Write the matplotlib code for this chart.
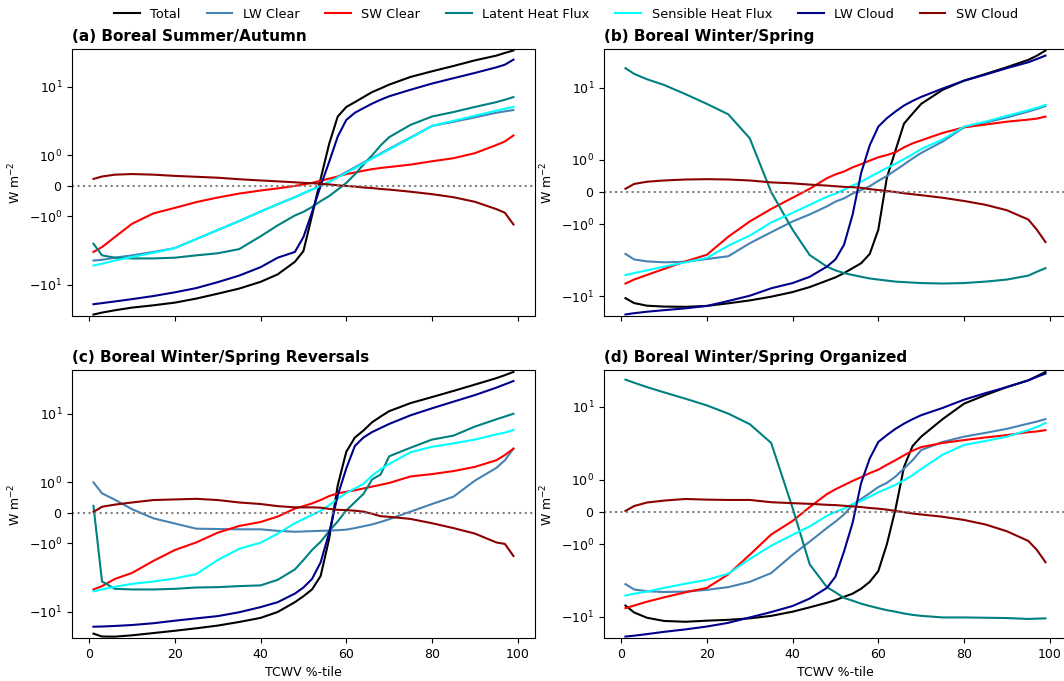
import matplotlib
matplotlib.use('Agg')
import matplotlib.pyplot as plt

# TCWV percentile bins
pct = [1, 3, 6, 10, 15, 20, 25, 30, 35, 40, 44, 48, 50, 52, 54, 56, 58, 60,
       62, 64, 66, 68, 70, 75, 80, 85, 90, 95, 97, 99]

labels = ['Total', 'LW Clear', 'SW Clear', 'Latent Heat Flux',
          'Sensible Heat Flux', 'LW Cloud', 'SW Cloud']
colors = ['black', 'steelblue', 'red', 'teal', 'cyan', 'darkblue', 'darkred']
titles = ['(a) Boreal Summer/Autumn', '(b) Boreal Winter/Spring',
          '(c) Boreal Winter/Spring Reversals', '(d) Boreal Winter/Spring Organized']

# (a) boreal summer/autumn
total_a = [-27, -25.3, -23.4, -21.4, -19.8, -18.1, -15.8, -13.4, -11.3, -9.0, -7.0, -4.6, -3.2, -0.97, 0.23,
           1.48, 3.7, 5.1, 6.0, 7.1, 8.4, 9.5, 10.8, 14.0, 16.9, 20.2, 24.4, 28.6, 31.3, 34.0]
lwclear_a = [-4.4, -4.3, -4.0, -3.7, -3.3, -2.9, -2.14, -1.58, -1.17, -0.84, -0.6, -0.37, -0.24, -0.12, 0.0,
             0.14, 0.3, 0.46, 0.61, 0.77, 0.91, 1.07, 1.25, 1.83, 2.7, 3.1, 3.6, 4.2, 4.4, 4.6]
swclear_a = [-3.3, -2.8, -2.0, -1.28, -0.9, -0.72, -0.53, -0.38, -0.25, -0.15, -0.08, 0.0, 0.05, 0.1, 0.17,
             0.24, 0.31, 0.39, 0.44, 0.5, 0.55, 0.59, 0.62, 0.7, 0.81, 0.91, 1.08, 1.42, 1.6, 1.96]
lhf_a = [-2.5, -3.7, -4.0, -4.1, -4.1, -4.0, -3.7, -3.45, -3.0, -1.95, -1.35, -0.97, -0.85, -0.69, -0.5,
         -0.33, -0.12, 0.1, 0.38, 0.7, 1.0, 1.4, 1.85, 2.8, 3.7, 4.3, 5.1, 6.0, 6.5, 7.1]
shf_a = [-5.2, -4.9, -4.4, -3.9, -3.4, -2.9, -2.14, -1.58, -1.17, -0.84, -0.6, -0.37, -0.24, -0.12, 0.0,
         0.13, 0.28, 0.43, 0.58, 0.74, 0.9, 1.05, 1.22, 1.8, 2.7, 3.2, 3.8, 4.5, 4.8, 5.1]
lwcloud_a = [-19.1, -18.4, -17.4, -16.1, -14.5, -12.8, -11.1, -9.1, -7.3, -5.5, -4.0, -3.3, -2.0, -0.86, 0.0,
             0.79, 1.89, 3.3, 4.2, 4.9, 5.7, 6.5, 7.3, 9.1, 11.2, 13.4, 16.0, 19.3, 21.1, 25.0]
swcloud_a = [0.23, 0.31, 0.37, 0.39, 0.37, 0.33, 0.3, 0.27, 0.22, 0.18, 0.15, 0.12, 0.1, 0.09, 0.07,
             0.05, 0.02, 0.0, -0.02, -0.05, -0.07, -0.1, -0.12, -0.19, -0.27, -0.37, -0.52, -0.76, -0.88, -1.31]

# (b) boreal winter/spring
total_b = [-10.7, -12.5, -13.6, -14.0, -14.1, -13.7, -12.6, -11.5, -10.2, -8.8, -7.5, -6.1, -5.5, -4.8, -4.1,
           -3.5, -2.6, -1.2, 0.45, 1.35, 3.2, 4.4, 6.0, 9.4, 12.6, 15.6, 19.4, 24.5, 28.0, 33.0]
lwclear_b = [-2.6, -3.1, -3.3, -3.4, -3.35, -3.06, -2.8, -1.85, -1.3, -0.92, -0.7, -0.45, -0.3, -0.2, -0.05,
             0.06, 0.18, 0.35, 0.5, 0.68, 0.86, 1.05, 1.25, 1.8, 2.84, 3.3, 3.9, 4.7, 5.1, 5.6]
swclear_b = [-6.7, -5.9, -5.1, -4.2, -3.3, -2.67, -1.5, -0.92, -0.53, -0.18, 0.1, 0.43, 0.55, 0.64, 0.77,
             0.87, 0.98, 1.09, 1.17, 1.28, 1.5, 1.7, 1.87, 2.37, 2.84, 3.1, 3.4, 3.63, 3.75, 4.0]
lhf_b = [18.8, 15.7, 13.2, 11.0, 8.2, 6.0, 4.3, 2.0, 0.0, -1.2, -2.7, -3.9, -4.4, -4.8, -5.1,
         -5.4, -5.7, -5.9, -6.1, -6.3, -6.4, -6.5, -6.6, -6.7, -6.6, -6.3, -5.9, -5.2, -4.6, -4.1]
shf_b = [-5.1, -4.8, -4.4, -3.9, -3.4, -2.95, -2.0, -1.45, -0.95, -0.65, -0.4, -0.15, -0.05, 0.07, 0.2,
         0.32, 0.47, 0.61, 0.75, 0.88, 1.03, 1.2, 1.42, 1.92, 2.9, 3.4, 4.1, 4.9, 5.3, 5.8]
lwcloud_b = [-18.0, -17.3, -16.5, -15.7, -14.8, -13.7, -11.7, -9.9, -7.8, -6.6, -5.4, -3.9, -3.1, -1.94, -0.71,
             0.6, 1.6, 2.9, 3.8, 4.7, 5.7, 6.6, 7.5, 9.8, 12.6, 15.3, 18.8, 22.7, 25.2, 28.1]
swcloud_b = [0.1, 0.25, 0.32, 0.36, 0.39, 0.4, 0.39, 0.36, 0.3, 0.27, 0.23, 0.2, 0.18, 0.16, 0.15,
             0.13, 0.09, 0.06, 0.03, 0.0, -0.04, -0.07, -0.1, -0.18, -0.28, -0.4, -0.57, -0.86, -1.2, -1.78]

# (c) reversals
total_c = [-20.7, -22.8, -22.9, -21.9, -20.3, -18.8, -17.3, -15.8, -14.0, -12.2, -10.0, -7.2, -5.9, -4.7, -3.0,
           -0.85, 0.9, 2.8, 4.5, 5.7, 7.5, 9.1, 10.9, 14.3, 17.5, 21.5, 26.6, 33.0, 36.5, 40.7]
lwclear_c = [1.0, 0.64, 0.43, 0.12, -0.18, -0.35, -0.52, -0.53, -0.54, -0.54, -0.59, -0.62, -0.61, -0.6, -0.59,
             -0.58, -0.57, -0.55, -0.5, -0.44, -0.38, -0.3, -0.21, 0.04, 0.29, 0.53, 1.06, 1.62, 2.1, 3.1]
swclear_c = [-4.7, -4.2, -3.3, -2.7, -1.8, -1.25, -0.97, -0.65, -0.43, -0.3, -0.12, 0.14, 0.22, 0.31, 0.42,
             0.55, 0.64, 0.69, 0.74, 0.8, 0.86, 0.92, 0.98, 1.22, 1.32, 1.46, 1.68, 2.1, 2.5, 3.1]
lhf_c = [0.23, -3.6, -4.6, -4.7, -4.7, -4.6, -4.4, -4.35, -4.2, -4.1, -3.4, -2.4, -1.75, -1.25, -0.95,
         -0.6, -0.28, 0.08, 0.35, 0.62, 1.1, 1.3, 2.4, 3.2, 4.2, 4.8, 6.5, 8.3, 9.1, 10.0]
shf_c = [-5.0, -4.7, -4.3, -3.9, -3.6, -3.25, -2.8, -1.75, -1.2, -0.98, -0.68, -0.34, -0.2, -0.07, 0.07,
         0.25, 0.46, 0.65, 0.8, 0.95, 1.25, 1.55, 1.85, 2.75, 3.3, 3.7, 4.2, 5.0, 5.3, 5.8]
lwcloud_c = [-16.4, -16.3, -16.0, -15.5, -14.6, -13.4, -12.4, -11.5, -10.1, -8.5, -7.2, -5.4, -4.4, -3.3, -1.9,
             -0.65, 0.57, 1.6, 3.4, 4.5, 5.4, 6.2, 7.1, 9.5, 12.0, 15.0, 18.7, 24.0, 26.8, 30.0]
swcloud_c = [0.03, 0.2, 0.27, 0.34, 0.42, 0.44, 0.46, 0.42, 0.34, 0.29, 0.22, 0.18, 0.18, 0.18, 0.17,
             0.13, 0.1, 0.09, 0.07, 0.04, -0.03, -0.11, -0.13, -0.2, -0.34, -0.5, -0.68, -0.97, -1.02, -1.53]

# (d) organized
total_d = [-7.0, -8.7, -10.3, -11.4, -11.7, -11.3, -11.0, -10.5, -9.7, -8.5, -7.4, -6.4, -5.9, -5.3, -4.8,
           -4.1, -3.3, -2.35, -1.0, 0.08, 1.5, 2.9, 3.9, 6.8, 11.1, 14.6, 18.8, 23.3, 26.5, 30.3]
lwclear_d = [-3.55, -4.2, -4.45, -4.55, -4.5, -4.25, -3.9, -3.3, -2.5, -1.4, -0.92, -0.5, -0.3, -0.08, 0.22,
             0.4, 0.58, 0.77, 0.9, 1.1, 1.42, 1.85, 2.55, 3.3, 3.9, 4.4, 5.0, 5.9, 6.3, 6.8]
swclear_d = [-7.6, -7.0, -6.2, -5.4, -4.6, -4.0, -2.6, -1.4, -0.7, -0.28, 0.15, 0.55, 0.7, 0.83, 0.96,
             1.08, 1.23, 1.37, 1.6, 1.85, 2.16, 2.5, 2.8, 3.2, 3.5, 3.8, 4.1, 4.5, 4.6, 4.8]
lhf_d = [23.8, 21.6, 18.8, 15.9, 13.0, 10.5, 8.1, 5.8, 3.2, 0.12, -1.9, -3.9, -4.6, -5.5, -6.0,
         -6.6, -7.1, -7.6, -8.1, -8.5, -9.0, -9.4, -9.7, -10.2, -10.2, -10.3, -10.4, -10.7, -10.6, -10.5]
shf_d = [-5.1, -4.8, -4.5, -4.0, -3.5, -3.1, -2.55, -1.6, -1.05, -0.71, -0.45, -0.12, 0.0, 0.1, 0.24,
         0.34, 0.47, 0.61, 0.72, 0.84, 0.98, 1.15, 1.4, 2.2, 3.0, 3.4, 3.9, 4.8, 5.3, 6.0]
lwcloud_d = [-18.7, -18.2, -17.3, -16.1, -14.9, -13.6, -12.1, -10.2, -8.6, -7.1, -5.6, -4.0, -2.8, -1.26, -0.34,
             0.9, 1.95, 3.3, 4.1, 5.0, 5.9, 6.8, 7.7, 9.7, 12.6, 15.5, 18.8, 23.2, 26.0, 28.8]
swcloud_d = [0.03, 0.18, 0.29, 0.35, 0.4, 0.38, 0.37, 0.37, 0.3, 0.27, 0.25, 0.22, 0.21, 0.19, 0.17,
             0.15, 0.12, 0.1, 0.07, 0.03, -0.01, -0.05, -0.08, -0.15, -0.25, -0.39, -0.6, -0.9, -1.2, -1.77]

panels = [
    [total_a, lwclear_a, swclear_a, lhf_a, shf_a, lwcloud_a, swcloud_a],
    [total_b, lwclear_b, swclear_b, lhf_b, shf_b, lwcloud_b, swcloud_b],
    [total_c, lwclear_c, swclear_c, lhf_c, shf_c, lwcloud_c, swcloud_c],
    [total_d, lwclear_d, swclear_d, lhf_d, shf_d, lwcloud_d, swcloud_d],
]

fig = plt.figure(figsize=(10.64, 6.81), dpi=100)
boxes = [[0.0677, 0.536, 0.435, 0.392], [0.5677, 0.536, 0.435, 0.392],
         [0.0677, 0.063, 0.435, 0.393], [0.5677, 0.063, 0.435, 0.393]]

for i in range(4):
    ax = fig.add_axes(boxes[i])
    for vals, lab, col in zip(panels[i], labels, colors):
        ax.plot(pct, vals, color=col, lw=1.5, label=lab)
    ax.axhline(0, color='gray', ls=':', lw=1.5)
    ax.set_yscale('symlog', linthresh=1, linscale=0.4)
    lo = min(min(v) for v in panels[i])
    hi = max(max(v) for v in panels[i])
    ax.set_ylim(lo * 1.05, hi * 1.05)
    ax.set_xlim(-4, 104)
    ax.set_xticks([0, 20, 40, 60, 80, 100])
    ax.tick_params(labelsize=9)
    ax.set_title(titles[i], loc='left', fontsize=11, fontweight='bold')
    ax.set_ylabel('W m$^{-2}$', fontsize=9)
    if i < 2:
        ax.tick_params(labelbottom=False)
    else:
        ax.set_xlabel('TCWV %-tile', fontsize=9)
    if i == 0:
        handles, labs = ax.get_legend_handles_labels()

fig.legend(handles, labs, loc='upper center', bbox_to_anchor=(0.532, 1.006), ncol=7,
           frameon=False, fontsize=9.3)

fig.savefig('out.png', dpi=100)
